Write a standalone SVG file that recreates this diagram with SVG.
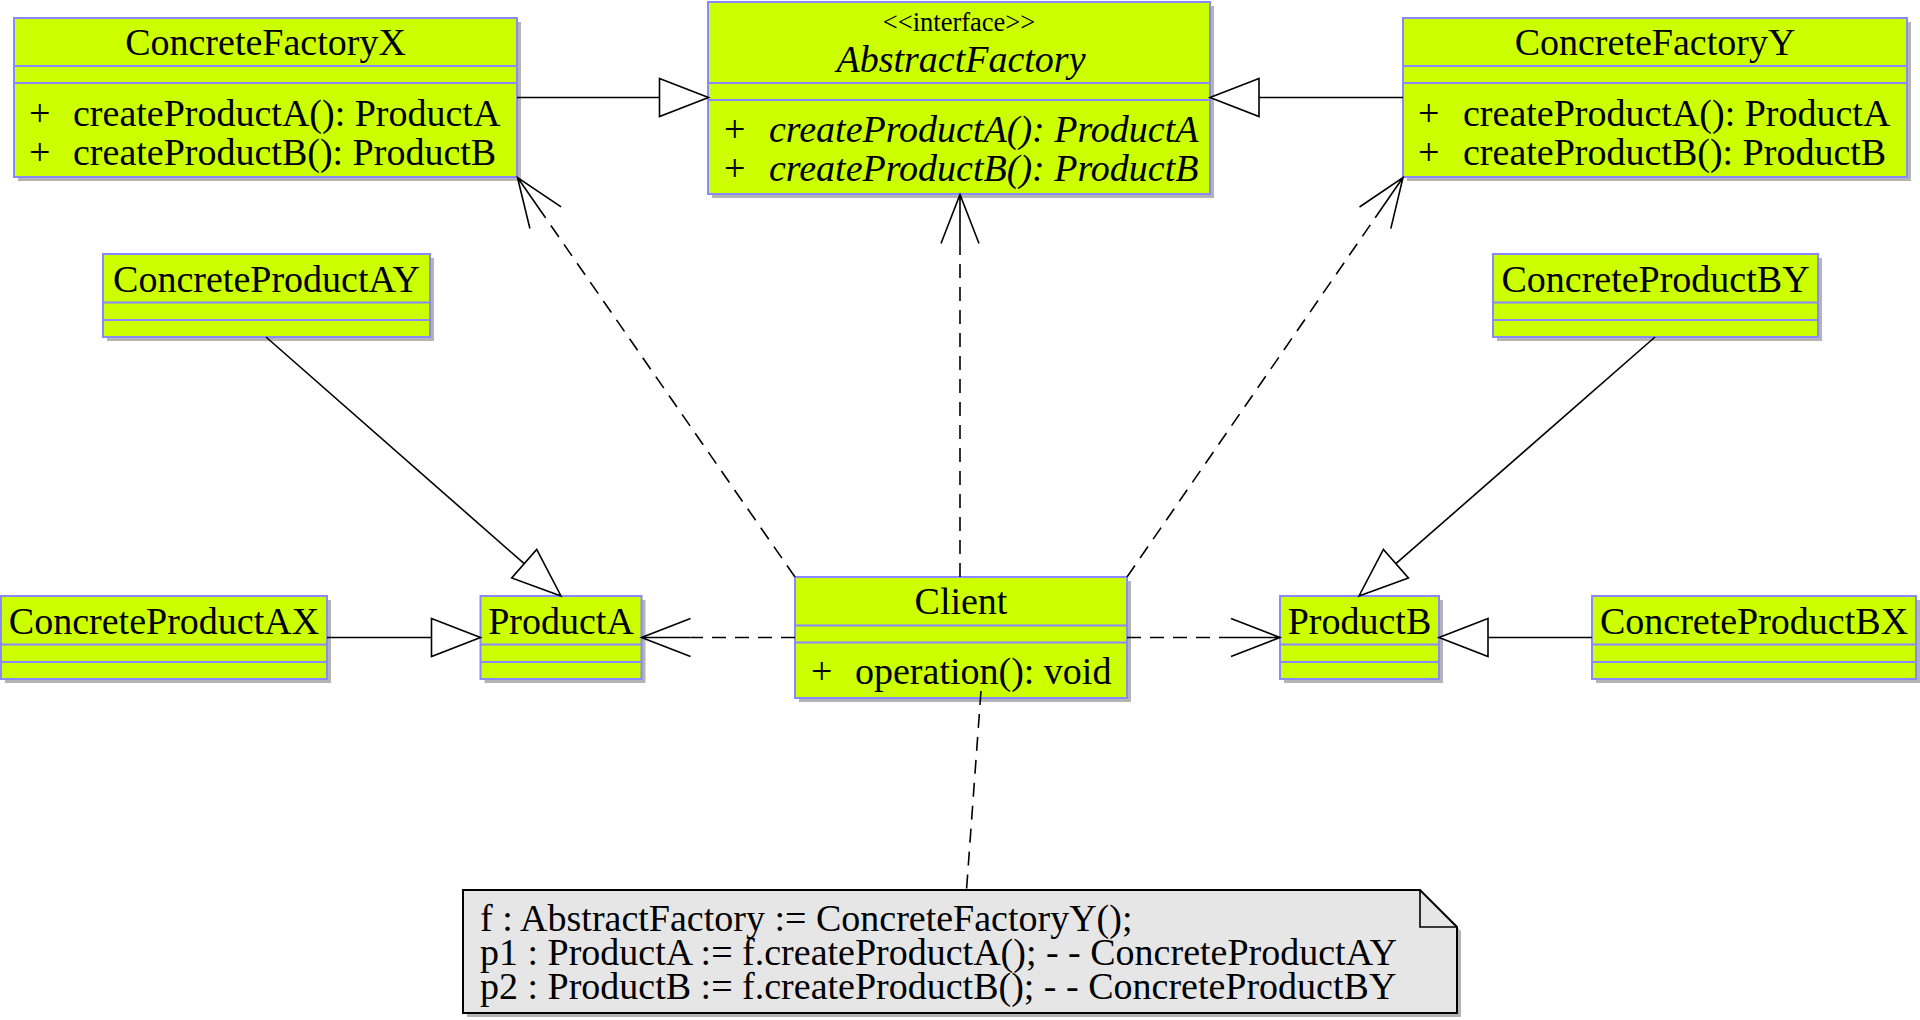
<svg xmlns="http://www.w3.org/2000/svg" width="1920" height="1020" viewBox="0 0 1920 1020">
<style>
text{font-family:"Liberation Serif","Times New Roman",serif;font-size:38px;fill:#000}
.c{text-anchor:middle}
.i{font-style:italic}
.st{font-size:26.5px}
.box{fill:#ccff00;stroke:#8888ff;stroke-width:2}
.div{stroke:#8888ff;stroke-width:2}
.sh{fill:#b4b4b4}
.note{fill:#e6e6e6;stroke:#000;stroke-width:2}
.ln{fill:none;stroke:#000;stroke-width:1.6}
.dash{fill:none;stroke:#000;stroke-width:1.6;stroke-dasharray:14 9}
.tri{fill:#fff;stroke:#000;stroke-width:1.6}
</style>
<rect width="1920" height="1020" fill="#fff"/>
<g id="ConcreteFactoryX">
<rect class="sh" x="18" y="22" width="503" height="159"/>
<rect class="box" x="14" y="18" width="503" height="159"/>
<line class="div" x1="14" y1="66" x2="517" y2="66"/><line class="div" x1="14" y1="83" x2="517" y2="83"/>
<text class="c" x="265.5" y="55">ConcreteFactoryX</text>
<text x="29" y="125.5">+</text><text x="73" y="125.5">createProductA(): ProductA</text>
<text x="29" y="165">+</text><text x="73" y="165">createProductB(): ProductB</text>
</g>
<g id="AbstractFactory">
<rect class="sh" x="712" y="6" width="502" height="192"/>
<rect class="box" x="708" y="2" width="502" height="192"/>
<line class="div" x1="708" y1="83" x2="1210" y2="83"/><line class="div" x1="708" y1="100" x2="1210" y2="100"/>
<text class="c st" x="959" y="30.5">&lt;&lt;interface&gt;&gt;</text>
<text class="c i" x="961" y="71.5">AbstractFactory</text>
<text x="724" y="141.5">+</text><text class="i" x="769" y="141.5">createProductA(): ProductA</text>
<text x="724" y="181">+</text><text class="i" x="769" y="181">createProductB(): ProductB</text>
</g>
<g id="ConcreteFactoryY">
<rect class="sh" x="1407" y="22" width="504" height="159"/>
<rect class="box" x="1403" y="18" width="504" height="159"/>
<line class="div" x1="1403" y1="66" x2="1907" y2="66"/><line class="div" x1="1403" y1="83" x2="1907" y2="83"/>
<text class="c" x="1655" y="55">ConcreteFactoryY</text>
<text x="1418" y="125.5">+</text><text x="1463" y="125.5">createProductA(): ProductA</text>
<text x="1418" y="165">+</text><text x="1463" y="165">createProductB(): ProductB</text>
</g>
<g id="ConcreteProductAY">
<rect class="sh" x="107" y="258" width="327" height="83"/>
<rect class="box" x="103" y="254" width="327" height="83"/>
<line class="div" x1="103" y1="302.5" x2="430" y2="302.5"/><line class="div" x1="103" y1="320" x2="430" y2="320"/>
<text class="c" x="266.5" y="291.5">ConcreteProductAY</text>
</g>
<g id="ConcreteProductBY">
<rect class="sh" x="1497" y="258" width="325" height="83"/>
<rect class="box" x="1493" y="254" width="325" height="83"/>
<line class="div" x1="1493" y1="302.5" x2="1818" y2="302.5"/><line class="div" x1="1493" y1="320" x2="1818" y2="320"/>
<text class="c" x="1655.5" y="291.5">ConcreteProductBY</text>
</g>
<g id="ConcreteProductAX">
<rect class="sh" x="5" y="600" width="326" height="83"/>
<rect class="box" x="1" y="596" width="326" height="83"/>
<line class="div" x1="1" y1="644.5" x2="327" y2="644.5"/><line class="div" x1="1" y1="662" x2="327" y2="662"/>
<text class="c" x="164" y="633.5">ConcreteProductAX</text>
</g>
<g id="ProductA">
<rect class="sh" x="484.5" y="600" width="161" height="83"/>
<rect class="box" x="480.5" y="596" width="161" height="83"/>
<line class="div" x1="480.5" y1="644.5" x2="641.5" y2="644.5"/><line class="div" x1="480.5" y1="662" x2="641.5" y2="662"/>
<text class="c" x="561" y="633.5">ProductA</text>
</g>
<g id="Client">
<rect class="sh" x="799" y="581" width="332" height="121"/>
<rect class="box" x="795" y="577" width="332" height="121"/>
<line class="div" x1="795" y1="625.5" x2="1127" y2="625.5"/><line class="div" x1="795" y1="642.5" x2="1127" y2="642.5"/>
<text class="c" x="961" y="614">Client</text>
<text x="811" y="683.5">+</text><text x="855" y="683.5">operation(): void</text>
</g>
<g id="ProductB">
<rect class="sh" x="1284" y="600" width="159" height="83"/>
<rect class="box" x="1280" y="596" width="159" height="83"/>
<line class="div" x1="1280" y1="644.5" x2="1439" y2="644.5"/><line class="div" x1="1280" y1="662" x2="1439" y2="662"/>
<text class="c" x="1359.5" y="633.5">ProductB</text>
</g>
<g id="ConcreteProductBX">
<rect class="sh" x="1596" y="600" width="324" height="83"/>
<rect class="box" x="1592" y="596" width="324" height="83"/>
<line class="div" x1="1592" y1="644.5" x2="1916" y2="644.5"/><line class="div" x1="1592" y1="662" x2="1916" y2="662"/>
<text class="c" x="1754" y="633.5">ConcreteProductBX</text>
</g>
<g id="Note">
<path class="sh" d="M467,894 H1424 L1461,931 V1017 H467 Z"/>
<path class="note" d="M463,890 H1420 L1457,927 V1013 H463 Z"/>
<path class="ln" d="M1420,890 V927 H1457" stroke-width="2"/>
<text x="480" y="930.5">f : AbstractFactory := ConcreteFactoryY();</text>
<text x="480" y="965">p1 : ProductA := f.createProductA(); - - ConcreteProductAY</text>
<text x="480" y="999">p2 : ProductB := f.createProductB(); - - ConcreteProductBY</text>
</g>
<g id="connectors">
<line class="ln" x1="517" y1="97.5" x2="659.5" y2="97.5"/>
<polygon class="tri" points="659.5,78.5 708.5,97.5 659.5,116.5"/>
<line class="ln" x1="1403" y1="97.5" x2="1259" y2="97.5"/>
<polygon class="tri" points="1259,78.5 1210,97.5 1259,116.5"/>
<line class="ln" x1="327" y1="637.5" x2="431.5" y2="637.5"/>
<polygon class="tri" points="431.5,618.5 480.5,637.5 431.5,656.5"/>
<line class="ln" x1="1592" y1="637.5" x2="1488" y2="637.5"/>
<polygon class="tri" points="1488,618.5 1439,637.5 1488,656.5"/>
<line class="ln" x1="266" y1="337" x2="524.2" y2="563.7"/>
<polygon class="tri" points="536.7,549.4 561,596 511.7,578"/>
<line class="ln" x1="1655" y1="337" x2="1395.9" y2="563.7"/>
<polygon class="tri" points="1408.4,578 1359,596 1383.4,549.4"/>
<line class="dash" x1="795" y1="577" x2="545.5" y2="217.7"/>
<path class="ln" d="M561.1,206.9 L517.5,177.5 L529.9,228.5 M517.5,177.5 L545.5,217.7"/>
<line class="dash" x1="960" y1="577" x2="960" y2="243.5"/>
<path class="ln" d="M941,243.5 L960,194.5 L979,243.5 M960,194.5 V243.5"/>
<line class="dash" x1="1127" y1="577" x2="1375.2" y2="217.8"/>
<path class="ln" d="M1390.8,228.6 L1403,177.5 L1359.5,207 M1403,177.5 L1375.2,217.8"/>
<line class="dash" x1="795" y1="637.5" x2="690.5" y2="637.5"/>
<path class="ln" d="M690.5,618.5 L641.5,637.5 L690.5,656.5 M641.5,637.5 H690.5"/>
<line class="dash" x1="1127" y1="637.5" x2="1231" y2="637.5"/>
<path class="ln" d="M1231,618.5 L1280,637.5 L1231,656.5 M1280,637.5 H1231"/>
<line class="dash" x1="981" y1="691" x2="966.5" y2="890"/>
</g>
</svg>
